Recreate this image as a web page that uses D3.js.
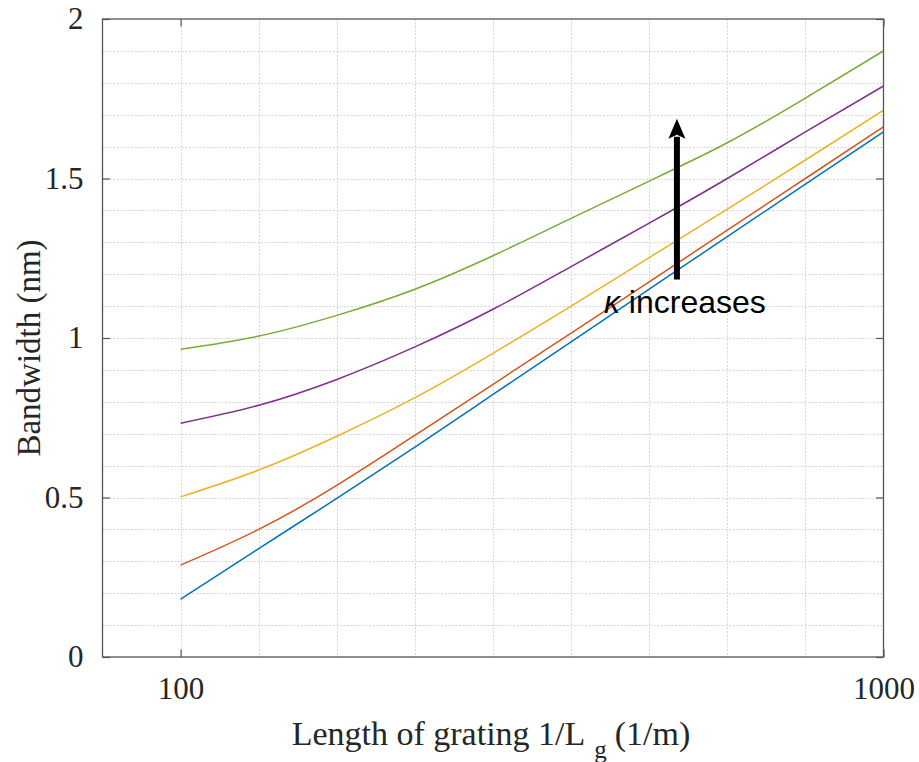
<!DOCTYPE html>
<html>
<head>
<meta charset="utf-8">
<script src="https://cdn.jsdelivr.net/npm/d3@7"></script>
<style>
  html, body { margin: 0; padding: 0; background: #fff; }
  svg { display: block; }
</style>
</head>
<body>
<svg id="chart" width="919" height="762"></svg>
<script>
// Inverse grating length (1/m) at which each curve is sampled
const invLength = [100, 200, 300, 400, 500, 600, 700, 800, 900, 1000];

// Bandwidth (nm), one series per coupling coefficient, smallest kappa first
const bwKappa1 = [0.181, 0.340, 0.497, 0.658, 0.823, 0.988, 1.153, 1.318, 1.482, 1.646];
const bwKappa2 = [0.288, 0.400, 0.538, 0.695, 0.855, 1.015, 1.176, 1.338, 1.500, 1.662];
const bwKappa3 = [0.502, 0.586, 0.692, 0.813, 0.952, 1.100, 1.252, 1.404, 1.558, 1.714];
const bwKappa4 = [0.733, 0.789, 0.870, 0.972, 1.090, 1.224, 1.360, 1.500, 1.646, 1.790];
const bwKappa5 = [0.965, 1.006, 1.071, 1.153, 1.258, 1.375, 1.492, 1.612, 1.752, 1.900];

const seriesColors = ["#0072BD", "#D95319", "#EDB120", "#7E2F8E", "#77AC30"];

// Axis ticks
const xTicks = [100, 1000];
const yTicks = [0, 0.5, 1, 1.5, 2];
const xGrid = [100, 200, 300, 400, 500, 600, 700, 800, 900];
const yGrid = d3.range(1, 20).map(i => i / 10);

// Annotation arrow (data coordinates) and its label
const arrowX = 735.5;
const arrowFrom = 1.183;
const arrowTo = 1.687;

(function draw() {
  const svg = d3.select("#chart");
  const pLeft = 102.5, pRight = 883.5, pTop = 19, pBottom = 657;

  const x = d3.scaleLinear().domain([0, 1000]).range([pLeft, pRight]);
  const y = d3.scaleLinear().domain([0, 2]).range([pBottom, pTop]);

  const serif = "'Liberation Serif', 'Times New Roman', serif";

  // Dotted grid
  const grid = svg.append("g")
    .attr("stroke", "#d4d4d4")
    .attr("stroke-width", 1)
    .attr("stroke-dasharray", "2,1.6");
  grid.selectAll("line.v").data(xGrid).join("line")
    .attr("class", "v")
    .attr("x1", d => Math.round(x(d)) + 0.5).attr("x2", d => Math.round(x(d)) + 0.5)
    .attr("y1", pTop).attr("y2", pBottom);
  grid.selectAll("line.h").data(yGrid).join("line")
    .attr("class", "h")
    .attr("y1", d => Math.round(y(d)) + 0.5).attr("y2", d => Math.round(y(d)) + 0.5)
    .attr("x1", pLeft).attr("x2", pRight);

  // Curves
  const allSeries = [bwKappa1, bwKappa2, bwKappa3, bwKappa4, bwKappa5];
  const line = d3.line()
    .x((d, i) => x(invLength[i]))
    .y(d => y(d))
    .curve(d3.curveNatural);
  svg.append("g").selectAll("path").data(allSeries).join("path")
    .attr("d", d => line(d))
    .attr("fill", "none")
    .attr("stroke", (d, i) => seriesColors[i])
    .attr("stroke-width", 1.5);

  // Axes: bottom/left with labels, top/right mirrored without labels, ticks inward
  const tickLen = 7.5;
  const axisColor = "#555";
  const labelColor = "#262626";

  function styleAxis(g) {
    g.select(".domain").remove();
    g.selectAll(".tick line").attr("stroke", axisColor).attr("stroke-width", 1.2);
    g.selectAll(".tick text").attr("fill", labelColor)
      .style("font-family", serif).style("font-size", "31px");
  }

  svg.append("g")
    .attr("transform", `translate(0,${pBottom})`)
    .call(d3.axisBottom(x).tickValues(xTicks).tickSize(-tickLen).tickPadding(20).tickFormat(d3.format("d")))
    .call(styleAxis);
  svg.append("g")
    .attr("transform", `translate(0,${pTop})`)
    .call(d3.axisTop(x).tickValues(xTicks).tickSize(-tickLen).tickFormat(""))
    .call(styleAxis);
  svg.append("g")
    .attr("transform", `translate(${pLeft},0)`)
    .call(d3.axisLeft(y).tickValues(yTicks).tickSize(-tickLen).tickPadding(19).tickFormat(d => String(d)))
    .call(styleAxis);
  svg.append("g")
    .attr("transform", `translate(${pRight},0)`)
    .call(d3.axisRight(y).tickValues(yTicks).tickSize(-tickLen).tickFormat(""))
    .call(styleAxis);

  // Box
  svg.append("rect")
    .attr("x", pLeft).attr("y", pTop)
    .attr("width", pRight - pLeft).attr("height", pBottom - pTop)
    .attr("fill", "none").attr("stroke", axisColor).attr("stroke-width", 1.3);

  // Axis titles
  const xTitle = svg.append("text")
    .attr("x", 491).attr("y", 745)
    .attr("text-anchor", "middle")
    .attr("fill", labelColor)
    .style("font-family", serif).style("font-size", "34px");
  xTitle.append("tspan").text("Length of grating 1/L");
  xTitle.append("tspan").attr("dy", 13).attr("dx", 9).style("font-size", "25px").text("g");
  xTitle.append("tspan").attr("dy", -13).attr("dx", 8).text("(1/m)");

  svg.append("text")
    .attr("transform", `translate(40,${(pTop + pBottom) / 2 + 10}) rotate(-90)`)
    .attr("text-anchor", "middle")
    .attr("fill", labelColor)
    .style("font-family", serif).style("font-size", "33px")
    .text("Bandwidth (nm)");

  // Arrow annotation
  const ax = x(arrowX), ay0 = y(arrowFrom), ay1 = y(arrowTo);
  const headLen = 20, headHalf = 8.5;
  svg.append("line")
    .attr("x1", ax).attr("x2", ax)
    .attr("y1", ay0).attr("y2", ay1 + headLen - 2)
    .attr("stroke", "#000").attr("stroke-width", 6);
  svg.append("path")
    .attr("d", `M${ax},${ay1} L${ax + headHalf},${ay1 + headLen} L${ax},${ay1 + headLen - 4} L${ax - headHalf},${ay1 + headLen} Z`)
    .attr("fill", "#000");

  const note = svg.append("text")
    .attr("x", ax - 73).attr("y", ay0 + 33)
    .attr("fill", "#000")
    .style("font-family", "'Liberation Sans', Arial, sans-serif").style("font-size", "32px");
  note.append("tspan").style("font-style", "italic").text("κ");
  note.append("tspan").text(" increases");
})();
</script>
</body>
</html>
